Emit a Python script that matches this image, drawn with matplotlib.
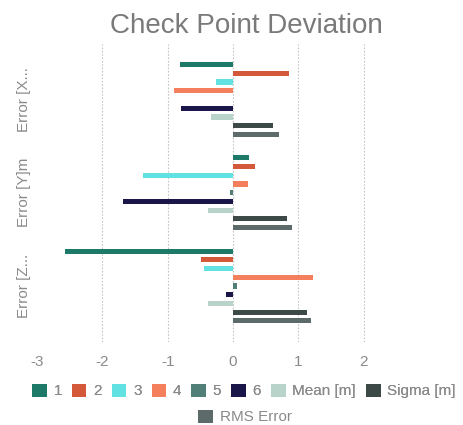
import matplotlib
matplotlib.use("Agg")
import matplotlib.pyplot as plt
import numpy as np
from matplotlib.patches import Patch

categories = ["Error [X...", "Error [Y]m", "Error [Z..."]
series_names = ["1", "2", "3", "4", "5", "6", "Mean [m]", "Sigma [m]", "RMS Error"]
s1 = [-0.81, 0.25, -2.57]
s2 = [0.85, 0.33, -0.49]
s3 = [-0.26, -1.37, -0.44]
s4 = [-0.91, 0.23, 1.22]
s5 = [0.0, -0.05, 0.06]
s6 = [-0.79, -1.68, -0.11]
mean = [-0.33, -0.38, -0.38]
sigma = [0.61, 0.82, 1.14]
rms = [0.70, 0.91, 1.20]
series = [s1, s2, s3, s4, s5, s6, mean, sigma, rms]
colors = ["#1e7a68", "#d4593a", "#62e1e3", "#f47f5c", "#4f7f76",
          "#1b1649", "#b7d3ca", "#3d4947", "#5d6a6a"]
xticks = [-3, -2, -1, 0, 1, 2]

plt.rcParams['font.family'] = ['Liberation Sans', 'DejaVu Sans']
W, H = 463, 425
fig = plt.figure(figsize=(W/100, H/100), dpi=100)
ax = fig.add_axes([37/W, 1-342/H, (429-37)/W, (342-44)/H])

n = len(series)
step = 0.0935
h = 0.055
y = np.arange(len(categories))
for i, (vals, c) in enumerate(zip(series, colors)):
    off = (i - (n - 1) / 2) * step
    ax.barh(y + off, vals, height=h, color=c, label=series_names[i])

ax.set_xlim(-3, 3)
ax.set_ylim(2.6, -0.595)
ax.set_xticks(xticks)
ax.set_xticklabels([str(t) for t in xticks])
ax.set_yticks(y)
ax.set_yticklabels(categories, rotation=90, va='center')
for s in ax.spines.values():
    s.set_visible(False)
ax.tick_params(axis='both', length=0, colors='#8a8a8a', labelsize=11)
ax.tick_params(axis='x', pad=9)
ax.tick_params(axis='y', pad=4)
ax.grid(axis='x', color='#c4c4c4', linestyle=(0, (1.5, 1.5)), linewidth=0.8)
ax.get_xgridlines()[0].set_visible(False)
ax.set_axisbelow(True)

fig.text(246/W, 1-33/H, "Check Point Deviation", ha='center', va='baseline',
         fontsize=20, color='#7a7a7a')

handles = [Patch(facecolor=c, edgecolor='none') for c in colors]
kw = dict(frameon=False, fontsize=11, labelcolor='#8a8a8a',
          handlelength=0.95, handleheight=0.95, handletextpad=0.45,
          columnspacing=0.65, borderaxespad=0, borderpad=0)
leg1 = fig.legend(handles[:8], series_names[:8], loc='center',
                  bbox_to_anchor=(244/W, 1-391/H), ncol=8, **kw)
fig.add_artist(leg1)
fig.legend(handles[8:], series_names[8:], loc='center',
           bbox_to_anchor=(245/W, 1-417/H), ncol=1, **kw)

fig.savefig("out.png", dpi=100)
